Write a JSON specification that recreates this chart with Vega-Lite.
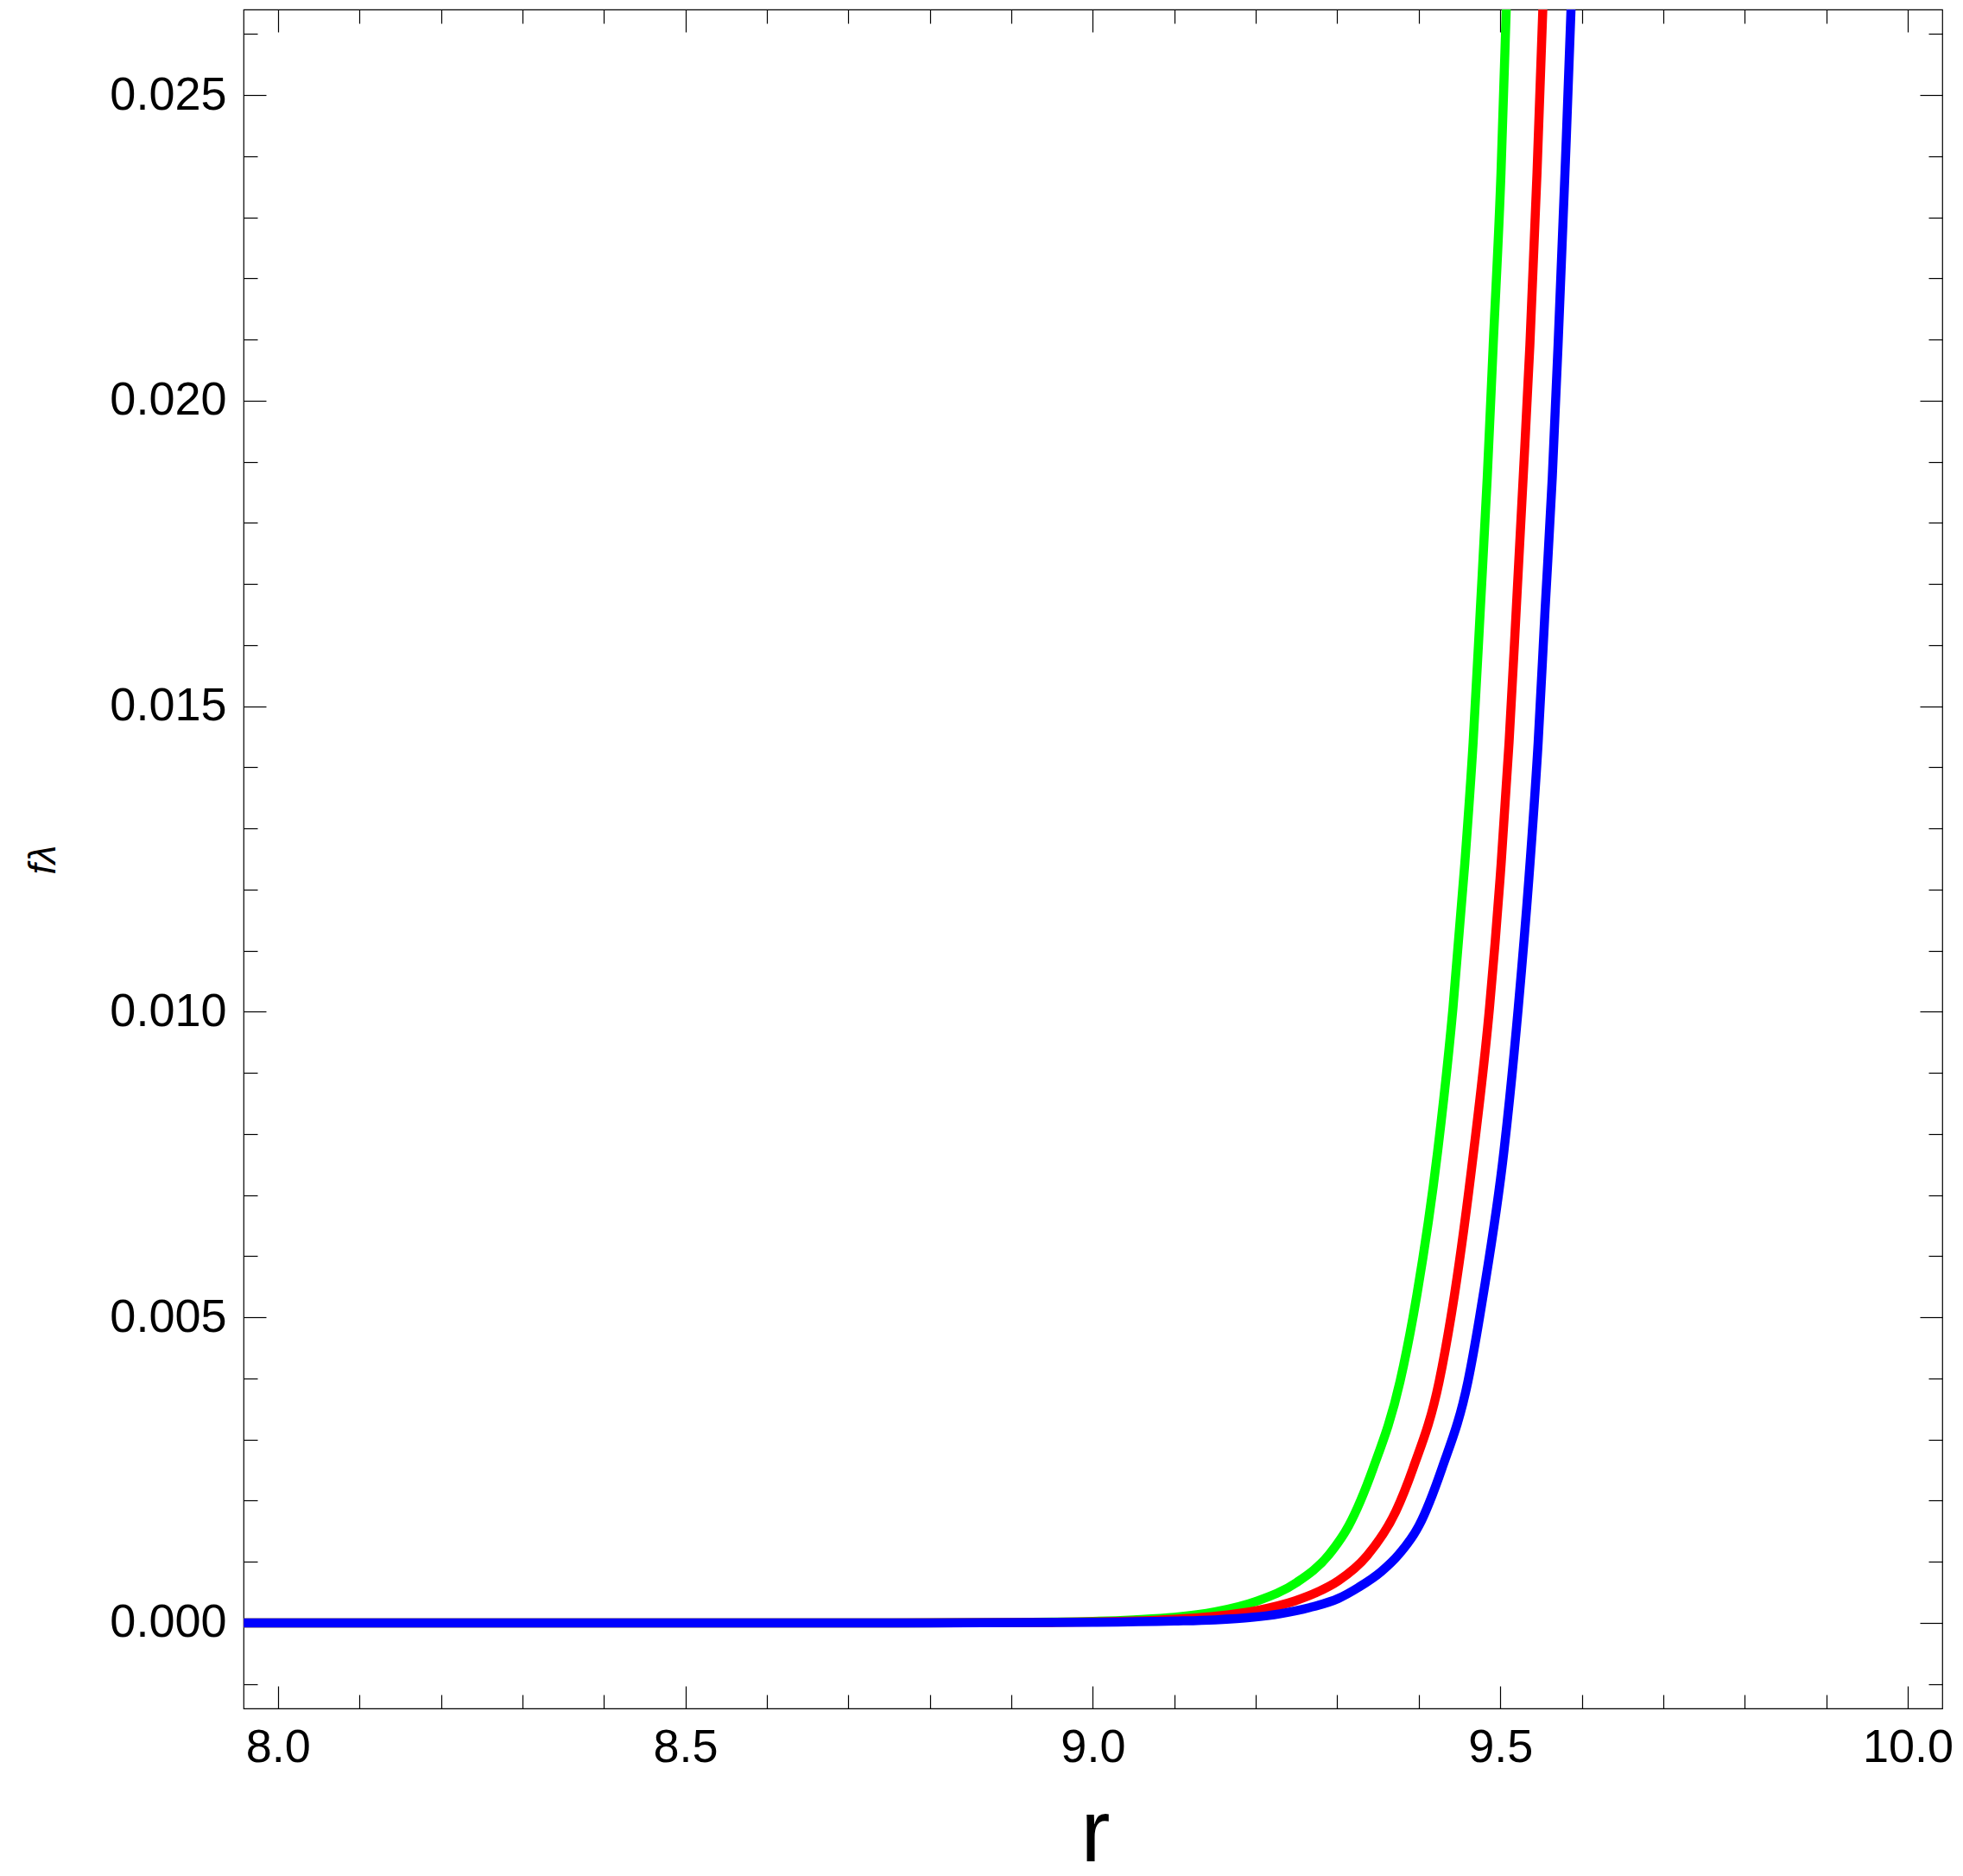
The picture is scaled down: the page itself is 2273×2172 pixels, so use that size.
{
  "$schema": "https://vega.github.io/schema/vega-lite/v6.json",
  "width": 1967,
  "height": 1967,
  "autosize": {"type": "none"},
  "padding": {"left": 282, "top": 11, "right": 24, "bottom": 194},
  "background": "white",
  "data": {"values": [
    {"s": "g", "r": 7.958, "f": 0}, {"s": "g", "r": 8.7, "f": 0}, {"s": "g", "r": 8.9, "f": 0.000007}, {"s": "g", "r": 8.95, "f": 0.000013}, {"s": "g", "r": 9.0, "f": 0.000025}, {"s": "g", "r": 9.05, "f": 0.00005}, {"s": "g", "r": 9.1, "f": 0.00009}, {"s": "g", "r": 9.15, "f": 0.00018}, {"s": "g", "r": 9.2, "f": 0.00035}, {"s": "g", "r": 9.25, "f": 0.00066}, {"s": "g", "r": 9.29, "f": 0.00112}, {"s": "g", "r": 9.314, "f": 0.00159}, {"s": "g", "r": 9.344, "f": 0.00253}, {"s": "g", "r": 9.377, "f": 0.00395}, {"s": "g", "r": 9.3976, "f": 0.00536}, {"s": "g", "r": 9.4232, "f": 0.00772}, {"s": "g", "r": 9.442, "f": 0.01007}, {"s": "g", "r": 9.4565, "f": 0.01243}, {"s": "g", "r": 9.4667, "f": 0.01441}, {"s": "g", "r": 9.4755, "f": 0.01658}, {"s": "g", "r": 9.484, "f": 0.01874}, {"s": "g", "r": 9.4913, "f": 0.0209}, {"s": "g", "r": 9.5009, "f": 0.02373}, {"s": "g", "r": 9.5073, "f": 0.0264}, {"s": "g", "r": 9.511, "f": 0.028},
    {"s": "r", "r": 7.958, "f": 0}, {"s": "r", "r": 8.75, "f": 0}, {"s": "r", "r": 8.95, "f": 0.000008}, {"s": "r", "r": 9.0, "f": 0.000016}, {"s": "r", "r": 9.05, "f": 0.00003}, {"s": "r", "r": 9.1, "f": 0.00006}, {"s": "r", "r": 9.15, "f": 0.00011}, {"s": "r", "r": 9.2, "f": 0.0002}, {"s": "r", "r": 9.248, "f": 0.00036}, {"s": "r", "r": 9.275, "f": 0.0005}, {"s": "r", "r": 9.3014, "f": 0.00069}, {"s": "r", "r": 9.3366, "f": 0.0011}, {"s": "r", "r": 9.372, "f": 0.00183}, {"s": "r", "r": 9.393, "f": 0.00253}, {"s": "r", "r": 9.425, "f": 0.00395}, {"s": "r", "r": 9.4437, "f": 0.00536}, {"s": "r", "r": 9.4674, "f": 0.00772}, {"s": "r", "r": 9.4868, "f": 0.01007}, {"s": "r", "r": 9.5011, "f": 0.01243}, {"s": "r", "r": 9.5108, "f": 0.01441}, {"s": "r", "r": 9.5196, "f": 0.01658}, {"s": "r", "r": 9.5281, "f": 0.01874}, {"s": "r", "r": 9.5363, "f": 0.0209}, {"s": "r", "r": 9.5451, "f": 0.02373}, {"s": "r", "r": 9.5522, "f": 0.0264}, {"s": "r", "r": 9.556, "f": 0.028},
    {"s": "b", "r": 7.958, "f": 0}, {"s": "b", "r": 8.8, "f": 0}, {"s": "b", "r": 9.0, "f": 0.00001}, {"s": "b", "r": 9.1, "f": 0.00003}, {"s": "b", "r": 9.15, "f": 0.00005}, {"s": "b", "r": 9.195, "f": 0.00009}, {"s": "b", "r": 9.23, "f": 0.00015}, {"s": "b", "r": 9.266, "f": 0.00025}, {"s": "b", "r": 9.3014, "f": 0.0004}, {"s": "b", "r": 9.326, "f": 0.00058}, {"s": "b", "r": 9.354, "f": 0.00084}, {"s": "b", "r": 9.3755, "f": 0.00112}, {"s": "b", "r": 9.4002, "f": 0.00159}, {"s": "b", "r": 9.4285, "f": 0.00253}, {"s": "b", "r": 9.4603, "f": 0.00395}, {"s": "b", "r": 9.479, "f": 0.00536}, {"s": "b", "r": 9.5045, "f": 0.00772}, {"s": "b", "r": 9.5221, "f": 0.01007}, {"s": "b", "r": 9.5365, "f": 0.01243}, {"s": "b", "r": 9.5465, "f": 0.01441}, {"s": "b", "r": 9.555, "f": 0.01658}, {"s": "b", "r": 9.5638, "f": 0.01874}, {"s": "b", "r": 9.5709, "f": 0.0209}, {"s": "b", "r": 9.5794, "f": 0.02373}, {"s": "b", "r": 9.5868, "f": 0.0264}, {"s": "b", "r": 9.5905, "f": 0.028}
  ]},
  "layer": [
    {
      "mark": {"type": "line", "strokeWidth": 10.5, "clip": true, "interpolate": "monotone"},
      "encoding": {
        "x": {"field": "r", "type": "quantitative",
          "scale": {"domain": [7.9578, 10.0424], "nice": false, "zero": false},
          "axis": {"orient": "bottom", "title": "r",
            "values": [8, 8.1, 8.2, 8.3, 8.4, 8.5, 8.6, 8.7, 8.8, 8.9, 9, 9.1, 9.2, 9.3, 9.4, 9.5, 9.6, 9.7, 9.8, 9.9, 10],
            "labelExpr": "round(datum.value*10)%5==0 ? format(datum.value,'.1f') : ''",
            "tickSize": {"condition": {"test": "round(datum.value*10)%5==0", "value": -26}, "value": -16},
            "labelPadding": 44,
            "titleFontSize": 102, "titleFont": "Liberation Sans", "titleFontWeight": "normal", "titleColor": "black",
            "titleX": 986, "titleY": 176, "titleBaseline": "alphabetic", "titleAlign": "center"}},
        "y": {"field": "f", "type": "quantitative",
          "scale": {"domain": [-0.0014, 0.0264], "nice": false, "zero": false},
          "axis": {"orient": "left", "title": "fλ",
            "values": [-0.001, 0, 0.001, 0.002, 0.003, 0.004, 0.005, 0.006, 0.007, 0.008, 0.009, 0.010, 0.011, 0.012, 0.013, 0.014, 0.015, 0.016, 0.017, 0.018, 0.019, 0.020, 0.021, 0.022, 0.023, 0.024, 0.025, 0.026],
            "labelExpr": "abs(round(datum.value*1000))%5==0 ? format(datum.value,'.3f') : ''",
            "tickSize": {"condition": {"test": "abs(round(datum.value*1000))%5==0", "value": -26}, "value": -16},
            "labelPadding": 46,
            "titleFontSize": 44, "titleFont": "Liberation Sans", "titleFontStyle": "italic", "titleFontWeight": "normal", "titleColor": "black",
            "titleAngle": 270, "titleX": -219, "titleY": 984, "titleBaseline": "alphabetic", "titleAlign": "center"}},
        "color": {"field": "s", "type": "nominal", "sort": ["g", "r", "b"],
          "scale": {"domain": ["g", "r", "b"], "range": ["#00FF00", "#FF0000", "#0000FF"]}, "legend": null}
      }
    },
    {
      "mark": {"type": "point", "opacity": 0, "clip": true},
      "encoding": {
        "x": {"field": "r", "type": "quantitative",
          "scale": {"domain": [7.9578, 10.0424], "nice": false, "zero": false},
          "axis": {"orient": "top", "title": null, "labels": false,
            "values": [8, 8.1, 8.2, 8.3, 8.4, 8.5, 8.6, 8.7, 8.8, 8.9, 9, 9.1, 9.2, 9.3, 9.4, 9.5, 9.6, 9.7, 9.8, 9.9, 10],
            "tickSize": {"condition": {"test": "round(datum.value*10)%5==0", "value": -26}, "value": -16}}},
        "y": {"field": "f", "type": "quantitative",
          "scale": {"domain": [-0.0014, 0.0264], "nice": false, "zero": false},
          "axis": {"orient": "right", "title": null, "labels": false,
            "values": [-0.001, 0, 0.001, 0.002, 0.003, 0.004, 0.005, 0.006, 0.007, 0.008, 0.009, 0.010, 0.011, 0.012, 0.013, 0.014, 0.015, 0.016, 0.017, 0.018, 0.019, 0.020, 0.021, 0.022, 0.023, 0.024, 0.025, 0.026],
            "tickSize": {"condition": {"test": "abs(round(datum.value*1000))%5==0", "value": -26}, "value": -16}}}
      }
    }
  ],
  "resolve": {"axis": {"x": "independent", "y": "independent"}},
  "config": {
    "view": {"stroke": "black", "strokeWidth": 1.2},
    "axis": {"domain": false, "grid": false, "tickColor": "black", "tickWidth": 1.2,
      "labelFont": "Liberation Sans", "labelFontSize": 54, "labelColor": "black",
      "labelFlush": false, "labelOverlap": false}
  }
}
